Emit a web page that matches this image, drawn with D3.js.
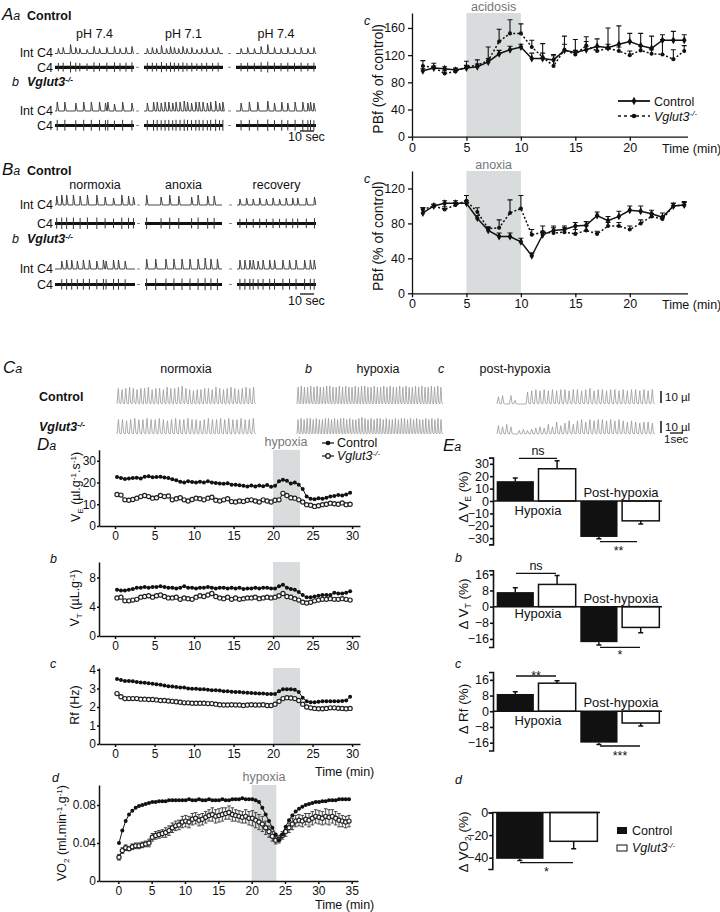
<!DOCTYPE html>
<html><head><meta charset="utf-8">
<script src="https://cdn.jsdelivr.net/npm/d3@7"></script>
<style>
body{margin:0;background:#fff;}
svg{display:block;}
</style></head><body>
<svg id="fig" width="720" height="912"></svg>
<script>
// ================= DATA =================
// A / B : phrenic burst times (s) and integrated amplitudes (a.u.) per segment
const aIntCtrl = [
 [2.4,5.9,11.2,15,17.9,23.1,28.1,32.1,37.4,42.9,46.9,51.2,55.5],
 [2.4,6,9.1,12.6,16.2,19.1,21.9,25,28.1,31,34.5,38.1,41.7,45.2,49.5,53.5],
 [3.6,8.3,13.1,17.9,22.6,27.4,32.1,36.9,41.7,46.4,51.2,55.5]];
const aIntCtrlAmp = [
 [5,6,9,6,5,4,7,5,6,7,5,6,7],
 [5,6,5,8,5,7,6,5,7,5,6,4,5,6,5,6],
 [5,6,5,7,9,6,5,6,5,6,5,6]];
const aIntKO = [
 [1.6,7.1,15,20.7,26.2,32.1,36.4,38.1,42.9,48.8,55.5],
 [2.4,6.9,9.5,12.4,15.2,17.9,20.7,23.1,26,29,31.4,34.3,37.4,39.8,42.6,45.7,48.1,51.7,54.5,56.9],
 [3.6,9.5,15.5,22.6,27.4,32.6,36.9,42.1,47.6,51.2,53.1,55.5]];
const aIntKOAmp = [
 [9,9,8,9,9,9,8,9,7,9,8],
 [8,9,9,8,9,9,8,9,9,10,9,8,9,9,9,8,9,10,8,9],
 [8,9,9,10,8,9,8,9,9,8,9,8]];
const bIntCtrl = [
 [1.2,4.8,8.3,13.1,17.9,23.1,29.8,35.7,41.7,47.6,52.4,55.9],
 [1.2,11.9,18.3,25,34.5,39.3,46.4,51.2],
 [2.1,6.9,11.7,16.4,21.2,26,30.7,35.5,40.2,43.8,50,55.9]];
const bIntCtrlAmp = [
 [9,10,10,10,9,10,10,8,7,10,9,8],
 [10,8,10,9,8,10,9,9],
 [6,7,6,7,6,7,6,7,7,7,7,8]];
const bIntKO = [
 [4.8,8.3,11.9,15.9,20.2,24.5,29.8,34.5,36.4,41.7,45.2,50],
 [1.2,7.9,15.5,21.4,27.4,33.3,39.3,44.5,48.8,53.6],
 [2.1,5.7,9.3,11.7,15.2,18.8,23.6,27.1,33.1,37.9,42.6,48.8,52.9,55.7]];
const bIntKOAmp = [
 [8,9,9,8,9,9,8,9,8,9,9,8],
 [10,10,10,10,10,10,10,11,10,10],
 [9,9,9,9,8,9,9,9,9,9,9,9,9,9]];
const aSegLabels = ['pH 7.4','pH 7.1','pH 7.4'];
const bSegLabels = ['normoxia','anoxia','recovery'];

// Ac / Bc : PBf (% of control)
const pbfTime = [1,2,3,4,5,6,7,8,9,10,11,12,13,14,15,16,17,18,19,20,21,22,23,24,25];
const acCtrl = [97,101,100,98,101,103,110,122,128,132,115,115,113,127,124,128,133,131,136,140,134,130,142,142,142];
const acCtrlErr = [3,3,3,3,4,4,5,5,5,4,8,8,6,21,19,19,11,29,27,12,18,18,8,13,8];
const acKO = [104,102,93,96,103,105,112,140,152,152,132,117,104,128,121,134,126,130,126,120,127,122,121,114,126];
const acKOErr = [8,6,4,4,8,8,20,18,20,14,10,20,17,8,6,6,6,6,6,6,6,6,22,14,8];
const bcCtrl = [92,100,103,103,103,86,72,65,65,59,43,67,72,73,77,78,89,83,88,95,94,91,87,100,101];
const bcCtrlErr = [6,2,3,3,3,3,3,4,4,4,3,4,5,4,4,4,4,5,6,5,6,4,5,3,4];
const bcKO = [96,100,96,101,106,93,74,75,92,97,67,70,69,70,68,72,68,77,77,73,80,88,85,100,101];
const bcKOErr = [2,2,3,3,6,5,2,9,15,15,6,7,6,5,5,5,3,4,4,4,4,3,3,3,3];

// C : breath amplitudes (µl) for each plethysmography trace
const cNormCtrl = [13,12,13,14,13,12,13,13,14,12,13,13,12,14,13,13,14,15,13,12,11,12,12,13,13,12,14,13,12,13,14,13,12,13,14,13,14];
const cNormKO = [12,12,11,12,13,12,12,13,12,12,13,12,11,12,13,12,12,13,12,12,11,12,13,12,12,13,12,13,12,12,13,12,12,13];
const cHypCtrl = [14,15,14,14,15,14,15,14,14,15,15,14,14,15,14,15,14,14,15,14,15,15,14,14,15,14,14,15,14,15,14,14,15,14,15,14,14,15,14,15,14,14,15,14,15,14];
const cHypKO = [12,13,12,13,13,12,13,12,12,13,13,12,13,12,13,13,12,13,12,12,13,14,13,12,13,12,13,13,12,13,12,12,13,12,13,13,12,13,12,13,12,12,13,12,13,12,13,12];
const cPostCtrl = [6,7,0,7,3,0,0,10,11,12,11,12,11,12,11,12,12,11,12,12,11,12,13,11,12,12,11,12,12,11,12,11,12,12,11,12,11,12];
const cPostKO = [7,6,8,6,0,3,4,3,4,5,6,5,8,6,10,7,9,11,8,11,12,10,12,11,12,12,11,12,11,12,11,10,11,10,9,10,10,9];

// D : time courses (every 0.5 min)
const dTime = d3.range(60).map(i => 0.25 + 0.5 * i);
const daCtrl = [22.5,22.0,21.6,21.8,22.0, 22.2,21.8,22.6,22.8,22.4, 22.5,22.6,22.3,22.0,21.5, 21.0,20.3,20.0,20.6,20.2, 20.0,20.3,20.0,20.5,20.0, 19.8,19.5,19.4,19.6,19.0, 19.0,18.7,18.5,18.2,18.6, 18.2,18.6,18.3,18.8,18.0, 18.5,20.5,21.2,20.8,19.5, 20.0,19.0,17.0,13.5,12.5, 12.3,12.8,12.5,13.0,13.6, 13.8,14.2,14.0,14.5,15.3];
const daKO = [14.5,14.2,12.0,11.8,12.2, 12.8,13.5,14.0,13.5,12.8, 13.0,14.0,13.5,13.8,12.0, 12.5,13.0,12.0,11.5,12.2, 12.8,12.5,12.0,12.8,13.2, 11.8,11.5,12.0,12.5,11.2, 11.0,11.5,11.2,11.8,12.0, 11.5,11.0,12.0,11.5,11.0, 11.8,12.0,15.0,14.0,13.0, 12.8,12.0,11.0,9.8,9.5, 9.0,9.3,9.8,10.0,10.5, 10.2,10.0,10.6,9.8,10.0];
const dbCtrl = [6.3,6.2,6.2,6.3,6.4, 6.6,6.6,6.7,6.6,6.7, 6.7,6.8,6.7,6.6,6.6, 6.5,6.6,6.8,6.6,6.6, 6.5,6.6,6.6,6.7,6.6, 6.5,6.6,6.6,6.5,6.6, 6.5,6.6,6.4,6.5,6.5, 6.6,6.5,6.6,6.6,6.5, 6.5,6.8,7.0,6.6,6.4, 6.3,6.0,5.6,5.3,5.3, 5.4,5.5,5.6,5.6,5.6, 5.9,5.8,5.8,5.9,6.1];
const dbKO = [5.2,5.3,4.8,4.8,4.9, 5.0,5.3,5.4,5.5,5.3, 5.5,5.6,5.4,5.2,5.2, 5.3,5.0,5.2,5.1,5.0, 5.3,5.5,5.4,5.6,5.8, 5.4,5.2,5.1,5.3,5.0, 5.2,5.0,5.1,5.2,5.2, 5.3,5.1,5.2,5.3,5.2, 5.3,5.5,5.8,5.4,5.3, 5.1,4.9,4.6,4.5,4.6, 4.8,4.9,5.0,5.0,5.1, 5.0,5.0,5.1,5.0,4.9];
const dcCtrl = [3.50,3.45,3.40,3.40,3.38, 3.35,3.32,3.30,3.28,3.25, 3.22,3.20,3.15,3.12,3.10, 3.08,3.05,3.05,3.00,2.98, 2.98,2.95,2.95,2.92,2.90, 2.90,2.88,2.85,2.85,2.82, 2.80,2.80,2.78,2.76,2.75, 2.74,2.72,2.72,2.70,2.70, 2.70,2.85,2.95,2.95,2.95, 2.92,2.80,2.50,2.30,2.25, 2.25,2.28,2.30,2.30,2.30, 2.30,2.30,2.32,2.35,2.55];
const dcKO = [2.72,2.55,2.45,2.45,2.45, 2.45,2.42,2.42,2.40,2.40, 2.38,2.35,2.35,2.32,2.30, 2.28,2.25,2.22,2.22,2.20, 2.20,2.20,2.20,2.18,2.18, 2.15,2.12,2.10,2.10,2.12, 2.10,2.10,2.08,2.10,2.12, 2.10,2.10,2.12,2.08,2.08, 2.15,2.30,2.45,2.50,2.48, 2.45,2.35,2.15,2.00,1.95, 1.92,1.90,1.90,1.92,1.95, 1.95,1.93,1.92,1.90,1.92];
const ddTime = d3.range(70).map(i => 0.1 + 0.5 * i);
const ddCtrl = [0.040,0.053,0.063,0.070,0.074,0.077,0.079,0.080,0.081,0.082, 0.083,0.083,0.084,0.084,0.084,0.085,0.085,0.085,0.085,0.085, 0.085,0.086,0.085,0.085,0.086,0.085,0.085,0.086,0.085,0.085, 0.085,0.086,0.085,0.085,0.086,0.086,0.086,0.087,0.086,0.086, 0.086,0.085,0.083,0.077,0.070,0.063,0.056,0.049,0.043,0.049, 0.057,0.064,0.069,0.073,0.076,0.078,0.080,0.081,0.082,0.083, 0.083,0.084,0.084,0.085,0.085,0.085,0.086,0.086,0.086,0.086];
const ddKO = [0.025,0.032,0.035,0.034,0.036,0.037,0.037,0.038,0.039,0.040, 0.046,0.048,0.049,0.050,0.051,0.053,0.056,0.058,0.059,0.062, 0.063,0.062,0.065,0.066,0.064,0.065,0.067,0.069,0.070,0.068, 0.069,0.070,0.071,0.072,0.070,0.069,0.068,0.067,0.068,0.066, 0.066,0.064,0.062,0.060,0.056,0.052,0.047,0.043,0.044,0.048, 0.052,0.056,0.060,0.063,0.064,0.063,0.065,0.064,0.066,0.068, 0.067,0.066,0.068,0.067,0.068,0.066,0.064,0.063,0.062,0.063];
const ddKOErr = [0.003,0.003,0.003,0.002,0.003,0.003,0.003,0.003,0.003,0.004, 0.004,0.004,0.004,0.004,0.005,0.005,0.005,0.005,0.005,0.006, 0.006,0.006,0.006,0.006,0.006,0.006,0.006,0.006,0.007,0.007, 0.007,0.007,0.006,0.007,0.007,0.006,0.006,0.006,0.007,0.007, 0.008,0.008,0.008,0.008,0.007,0.006,0.005,0.004,0.004,0.004, 0.005,0.005,0.006,0.006,0.006,0.006,0.006,0.007,0.007,0.007, 0.007,0.007,0.008,0.008,0.007,0.007,0.007,0.006,0.006,0.006];

// E : % change (Control hypoxia, Vglut3 hypoxia, Control post, Vglut3 post)
const eGroups = ['Hypoxia','Post-hypoxia'];
const eaVals = [16, 26, -29, -16];   const eaErr = [2.5, 6.5, 1.5, 2.5];
const ebVals = [7.2, 11, -17.6, -10.3]; const ebErr = [2.2, 4.4, 1.4, 2.7];
const ecVals = [8.8, 14.3, -16, -6]; const ecErr = [1.2, 1.2, 1.0, 1.5];
const edVals = [-41, -25.5];         const edErr = [1.5, 6.5];

// ================= DRAWING =================
const F = '"Liberation Sans", Arial, Helvetica, sans-serif';
const svg = d3.select('#fig').attr('font-family', F);
const INK = '#111';

function RT(x, y, parts, o = {}) {
  const base = o.size || 12.5;
  const t = svg.append('text').attr('x', x).attr('y', y).attr('font-size', base).attr('fill', o.fill || INK);
  if (o.anchor) t.attr('text-anchor', o.anchor);
  if (o.weight) t.attr('font-weight', o.weight);
  if (o.italic) t.attr('font-style', 'italic');
  if (o.rotate) t.attr('transform', `rotate(-90,${x},${y})`);
  let shift = 0;
  parts.forEach(p => {
    const [s, st] = typeof p === 'string' ? [p, {}] : p;
    const target = st.sub ? 3 : st.sup ? -4.5 : 0;
    const ts = t.append('tspan').text(s);
    if (target - shift !== 0) ts.attr('dy', target - shift);
    shift = target;
    if (st.sub || st.sup) ts.attr('font-size', base * 0.65);
    if (st.size) ts.attr('font-size', st.size);
    if (st.italic) ts.attr('font-style', 'italic');
    if (st.weight) ts.attr('font-weight', st.weight);
  });
  return t;
}
const KO = (o = {}) => [['Vglut3', {italic: true, ...o}], ['-/-', {sup: true, italic: true, ...o}]];
function letter(x, y, big, small) {
  RT(x, y, [[big, {italic: true, size: 17}], [small || '', {italic: true, size: 12.5}]]);
}
function styleAxis(g, w = 1.3, fs = 12.5) {
  g.attr('font-family', F).attr('font-size', fs);
  g.selectAll('path,line').attr('stroke', INK).attr('stroke-width', w);
  g.selectAll('text').attr('fill', INK);
}

// ---------- A and B traces ----------
const SEG_SEC = 57;
function traceBlock(segs, intT, intA, yInt, yRaw) {
  segs.forEach((sx, k) => {
    const xs = d3.scaleLinear().domain([0, SEG_SEC]).range(sx);
    const pts = [[xs(0), yInt]];
    intT[k].forEach((t, i) => {
      const h = intA[k][i];
      pts.push([xs(t) - 0.5, yInt], [xs(t), yInt - h], [xs(t) + 1.4, yInt]);
    });
    pts.push([xs(SEG_SEC), yInt]);
    svg.append('path').attr('d', d3.line()(pts)).attr('fill', 'none').attr('stroke', '#333').attr('stroke-width', 0.9);
    svg.append('line').attr('x1', xs(0)).attr('x2', xs(SEG_SEC)).attr('y1', yRaw).attr('y2', yRaw)
      .attr('stroke', INK).attr('stroke-width', 3.2);
    svg.append('g').selectAll('line').data(intT[k]).join('line')
      .attr('x1', d => xs(d)).attr('x2', d => xs(d))
      .attr('y1', (d, i) => yRaw - 2.5 - intA[k][i] * 0.35).attr('y2', (d, i) => yRaw + 2.5 + intA[k][i] * 0.3)
      .attr('stroke', '#333').attr('stroke-width', 1);
    if (k > 0) {
      [yInt, yRaw].forEach(yy => svg.append('line').attr('x1', sx[0] - 8).attr('x2', sx[0] - 5)
        .attr('y1', yy).attr('y2', yy).attr('stroke', '#888').attr('stroke-width', 1));
    }
  });
  RT(53, yInt + 3.5, ['Int C4'], {anchor: 'end'});
  RT(53, yRaw + 4.5, ['C4'], {anchor: 'end'});
}
const aSegs = [[55,134],[144,223],[236,316]];
const bSegs = [[55,135],[145,222],[237,316]];

letter(2, 20, 'A', 'a');
RT(27, 20, ['Control'], {weight: 'bold'});
aSegLabels.forEach((s, i) => RT((aSegs[i][0] + aSegs[i][1]) / 2, 38, [s], {anchor: 'middle'}));
traceBlock(aSegs, aIntCtrl, aIntCtrlAmp, 53.5, 67.3);
RT(12, 86, [['b', {italic: true}]]);
RT(27, 86, KO({weight: 'bold'}));
traceBlock(aSegs, aIntKO, aIntKOAmp, 111, 125.5);
svg.append('line').attr('x1', 300).attr('x2', 314).attr('y1', 131).attr('y2', 131).attr('stroke', INK).attr('stroke-width', 1.3);
RT(288, 141, ['10 sec']);

letter(2, 175, 'B', 'a');
RT(27, 175, ['Control'], {weight: 'bold'});
bSegLabels.forEach((s, i) => RT((bSegs[i][0] + bSegs[i][1]) / 2, 189, [s], {anchor: 'middle'}));
traceBlock(bSegs, bIntCtrl, bIntCtrlAmp, 205, 223.5);
RT(12, 243, [['b', {italic: true}]]);
RT(27, 243, KO({weight: 'bold'}));
traceBlock(bSegs, bIntKO, bIntKOAmp, 269, 284.5);
svg.append('line').attr('x1', 300).attr('x2', 314).attr('y1', 294).attr('y2', 294).attr('stroke', INK).attr('stroke-width', 1.3);
RT(288, 305, ['10 sec']);

// ---------- Ac / Bc ----------
function pbf(o) {
  const x = d3.scaleLinear().domain([0, 25.3]).range([412, 687.5]);
  const y = d3.scaleLinear().domain(o.yDom).range(o.yRng);
  svg.append('rect').attr('x', x(5)).attr('y', o.yRng[1]).attr('width', x(10) - x(5))
    .attr('height', o.yRng[0] - o.yRng[1]).attr('fill', '#d9dcdc');
  RT((x(5) + x(10)) / 2, o.yRng[1] - 2, [o.shadeLabel], {anchor: 'middle', fill: '#777'});
  const gx = svg.append('g').attr('transform', `translate(0,${o.yRng[0]})`)
    .call(d3.axisBottom(x).tickValues([0,5,10,15,20]).tickSize(4).tickSizeOuter(0).tickPadding(2));
  const gy = svg.append('g').attr('transform', `translate(${x(0)},0)`)
    .call(d3.axisLeft(y).tickValues(o.yTicks).tickSize(4).tickSizeOuter(0).tickPadding(3));
  styleAxis(gx); styleAxis(gy);
  const series = [
    {v: o.ko, e: o.koErr, dash: '2,2', sym: d3.symbolCircle, size: 13},
    {v: o.ctrl, e: o.ctrlErr, dash: null, sym: d3.symbolDiamond, size: 18}];
  series.forEach(s => {
    const pts = pbfTime.map((t, i) => [x(t), y(s.v[i]), y(s.v[i] + s.e[i])]);
    svg.append('g').selectAll('path').data(pts).join('path')
      .attr('d', d => `M${d[0]},${d[1]}V${d[2]}M${d[0] - 2.5},${d[2]}H${d[0] + 2.5}`)
      .attr('stroke', INK).attr('stroke-width', 1.1).attr('fill', 'none');
    svg.append('path').datum(pts).attr('d', d3.line().x(d => d[0]).y(d => d[1]))
      .attr('fill', 'none').attr('stroke', INK).attr('stroke-width', 1.5).attr('stroke-dasharray', s.dash);
    svg.append('g').selectAll('path').data(pts).join('path')
      .attr('transform', d => `translate(${d[0]},${d[1]})`).attr('d', d3.symbol(s.sym, s.size)).attr('fill', INK);
  });
  RT(383, (o.yRng[0] + o.yRng[1]) / 2 + 4, ['PBf (% of control)'], {anchor: 'middle', rotate: true, size: 14});
  RT(662, o.yRng[0] + 16, ['Time (min)']);
  RT(364, o.yRng[1] + 12, [['c', {italic: true}]]);
}
pbf({yDom: [0, 182], yRng: [136.7, 13], yTicks: [0,40,80,120,160], ctrl: acCtrl, ctrlErr: acCtrlErr, ko: acKO, koErr: acKOErr, shadeLabel: 'acidosis'});
pbf({yDom: [0, 140], yRng: [293.3, 171], yTicks: [0,40,80,120], ctrl: bcCtrl, ctrlErr: bcCtrlErr, ko: bcKO, koErr: bcKOErr, shadeLabel: 'anoxia'});
// Ac legend
svg.append('line').attr('x1', 618).attr('x2', 650).attr('y1', 101).attr('y2', 101).attr('stroke', INK).attr('stroke-width', 1.8);
svg.append('path').attr('transform', 'translate(634,101)').attr('d', d3.symbol(d3.symbolDiamond, 20)).attr('fill', INK);
RT(654, 105.5, ['Control']);
svg.append('line').attr('x1', 618).attr('x2', 650).attr('y1', 116).attr('y2', 116).attr('stroke', INK).attr('stroke-width', 1.6).attr('stroke-dasharray', '3,3');
svg.append('path').attr('transform', 'translate(634,116)').attr('d', d3.symbol(d3.symbolCircle, 16)).attr('fill', INK);
RT(654, 120.5, KO());

// ---------- C plethysmography ----------
function breath(amps, x0, x1, yBase) {
  const w = (x1 - x0) / amps.length, k = 1.2;
  const pts = [];
  amps.forEach((a, i) => {
    const s = x0 + i * w;
    pts.push([s, yBase], [s + 0.35 * w, yBase - a * k], [s + 0.62 * w, yBase - a * k * 0.08], [s + w, yBase]);
  });
  svg.append('path').attr('d', d3.line()(pts)).attr('fill', 'none').attr('stroke', '#999').attr('stroke-width', 0.8);
}
letter(3, 373, 'C', 'a');
RT(186, 373, ['normoxia'], {anchor: 'middle'});
RT(305, 373, [['b', {italic: true}]]);
RT(378, 373, ['hypoxia'], {anchor: 'middle'});
RT(438, 373, [['c', {italic: true}]]);
RT(515, 373, ['post-hypoxia'], {anchor: 'middle'});
RT(39, 401, ['Control'], {weight: 'bold'});
RT(39, 431, KO({weight: 'bold'}));
breath(cNormCtrl, 117, 256, 404);
breath(cHypCtrl, 297, 443, 404);
breath(cPostCtrl, 497, 655, 404);
breath(cNormKO, 117, 256, 434);
breath(cHypKO, 297, 443, 434);
breath(cPostKO, 497, 655, 434);
[[391, 403], [421, 433]].forEach(([a, b]) => {
  svg.append('line').attr('x1', 661).attr('x2', 661).attr('y1', a).attr('y2', b).attr('stroke', INK).attr('stroke-width', 1.5);
  RT(665, b - 2, ['10 µl'], {size: 11.5});
});
svg.append('line').attr('x1', 670).attr('x2', 683).attr('y1', 433).attr('y2', 433).attr('stroke', INK).attr('stroke-width', 1.3);
RT(664, 443, ['1sec'], {size: 11.5});

// ---------- D time courses ----------
function dChart(o) {
  const x = d3.scaleLinear().domain(o.xDom).range(o.xRng);
  const y = d3.scaleLinear().domain(o.yDom).range(o.yRng);
  svg.append('rect').attr('x', x(o.shade[0])).attr('y', o.yRng[1]).attr('width', x(o.shade[1]) - x(o.shade[0]))
    .attr('height', o.yRng[0] - o.yRng[1]).attr('fill', '#d9dcdc');
  const gx = svg.append('g').attr('transform', `translate(0,${o.yRng[0]})`)
    .call(d3.axisBottom(x).tickValues(o.xTicks).tickSize(3).tickSizeOuter(0).tickPadding(2));
  const gy = svg.append('g').attr('transform', `translate(${o.xRng[0]},0)`)
    .call(d3.axisLeft(y).tickValues(o.yTicks).tickSize(2).tickSizeOuter(0).tickPadding(1).tickFormat(o.fmt || (d => d)));
  styleAxis(gx, 1.5, 12); styleAxis(gy, 1.5, 12);
  const draw = (vals, err, filled) => {
    const pts = o.t.map((t, i) => [x(t), y(vals[i]), err ? y(vals[i] - err[i]) : 0, err ? y(vals[i] + err[i]) : 0]);
    if (err) {
      svg.append('g').selectAll('path').data(pts).join('path')
        .attr('d', d => `M${d[0]},${d[2]}V${d[3]}M${d[0] - 1.8},${d[2]}H${d[0] + 1.8}M${d[0] - 1.8},${d[3]}H${d[0] + 1.8}`)
        .attr('stroke', '#333').attr('stroke-width', 0.9).attr('fill', 'none');
    }
    svg.append('path').datum(pts).attr('d', d3.line().x(d => d[0]).y(d => d[1]))
      .attr('fill', 'none').attr('stroke', INK).attr('stroke-width', 1);
    svg.append('g').selectAll('circle').data(pts).join('circle')
      .attr('cx', d => d[0]).attr('cy', d => d[1]).attr('r', filled ? 2 : 2.1)
      .attr('fill', filled ? INK : '#fff').attr('stroke', filled ? 'none' : '#222').attr('stroke-width', 1.2);
  };
  draw(o.ko, o.koErr, false);
  draw(o.ctrl, null, true);
}
const dX = {xDom: [-2.03, 31.0], xRng: [99, 360], xTicks: [0,5,10,15,20,25,30], shade: [20, 23.4], t: dTime};
dChart({...dX, yDom: [0, 35], yRng: [526, 449.8], yTicks: [0,10,20,30], ctrl: daCtrl, ko: daKO});
dChart({...dX, yDom: [0, 10.1], yRng: [636, 562], yTicks: [0,4,8], ctrl: dbCtrl, ko: dbKO});
dChart({...dX, yDom: [0, 4.1], yRng: [744, 668], yTicks: [0,1,2,3,4], ctrl: dcCtrl, ko: dcKO});
dChart({xDom: [-2.9, 35.95], xRng: [99, 358], xTicks: [0,5,10,15,20,25,30,35], shade: [20, 23.7], t: ddTime,
  yDom: [0, 0.101], yRng: [881, 785], yTicks: [0, 0.04, 0.08], fmt: d => d === 0 ? '0' : d3.format('.2f')(d),
  ctrl: ddCtrl, ko: ddKO, koErr: ddKOErr});

letter(37, 450, 'D', 'a');
RT(286, 446, ['hypoxia'], {anchor: 'middle', fill: '#777'});
RT(264, 781, ['hypoxia'], {anchor: 'middle', fill: '#777'});
svg.append('line').attr('x1', 322).attr('x2', 334).attr('y1', 443).attr('y2', 443).attr('stroke', INK).attr('stroke-width', 1.2);
svg.append('circle').attr('cx', 328).attr('cy', 443).attr('r', 2.3).attr('fill', INK);
RT(337, 447, ['Control']);
svg.append('line').attr('x1', 322).attr('x2', 334).attr('y1', 456).attr('y2', 456).attr('stroke', INK).attr('stroke-width', 1.2);
svg.append('circle').attr('cx', 328).attr('cy', 456).attr('r', 2.3).attr('fill', '#fff').attr('stroke', '#222').attr('stroke-width', 1.3);
RT(337, 460, KO());
RT(50, 563, [['b', {italic: true}]]);
RT(50, 668, [['c', {italic: true}]]);
RT(52, 782, [['d', {italic: true}]]);
RT(80, 487, ['V', ['E', {sub: true}], ' (µl.g', ['-1', {sup: true}], '.s', ['-1', {sup: true}], ')'], {anchor: 'middle', rotate: true});
RT(79, 598, ['V', ['T', {sub: true}], ' (µL.g', ['-1', {sup: true}], ')'], {anchor: 'middle', rotate: true});
RT(79, 705, ['Rf (Hz)'], {anchor: 'middle', rotate: true});
RT(66, 833, ['VO', ['2', {sub: true}], ' (ml.min', ['-1', {sup: true}], '.g', ['-1', {sup: true}], ')'], {anchor: 'middle', rotate: true});
RT(315, 776, ['Time (min)']);
RT(315, 909, ['Time (min)']);

// ---------- E bar charts ----------
function eChart(o) {
  const y = d3.scaleLinear().domain(o.yDom).range(o.yRng);
  const x = d3.scaleBand().domain(d3.range(o.vals.length)).range(o.xRng).paddingInner(o.pi).paddingOuter(o.po);
  const bw = x.bandwidth();
  o.vals.forEach((v, i) => {
    const ctrl = i % 2 === 0;
    svg.append('rect').attr('x', x(i)).attr('y', y(Math.max(0, v))).attr('width', bw)
      .attr('height', Math.abs(y(v) - y(0))).attr('fill', ctrl ? INK : '#fff')
      .attr('stroke', INK).attr('stroke-width', ctrl ? 0 : 1.5);
    const cx = x(i) + bw / 2, ye = y(v + Math.sign(v) * o.err[i]);
    svg.append('path').attr('d', `M${cx},${y(v)}V${ye}M${cx - 2.5},${ye}H${cx + 2.5}`)
      .attr('stroke', INK).attr('stroke-width', 1.5).attr('fill', 'none');
  });
  svg.append('line').attr('x1', o.axisX).attr('x2', o.zeroEnd).attr('y1', y(0)).attr('y2', y(0)).attr('stroke', INK).attr('stroke-width', 1.5);
  const gy = svg.append('g').attr('transform', `translate(${o.axisX},0)`)
    .call(d3.axisLeft(y).tickValues(o.yTicks).tickSize(3).tickSizeOuter(4).tickPadding(1));
  styleAxis(gy, 1.6, 12.5);
  (o.sig || []).forEach(s => {
    svg.append('line').attr('x1', s.x1).attr('x2', s.x2).attr('y1', s.y).attr('y2', s.y).attr('stroke', INK).attr('stroke-width', 1.3);
    RT((s.x1 + s.x2) / 2, s.ty, [s.text], {anchor: 'middle', size: s.size || 12.5});
  });
  if (o.groupLabels) {
    RT(o.groupLabels[0][0], o.groupLabels[0][1], [eGroups[0]], {anchor: 'middle', size: 13});
    RT(o.groupLabels[1][0], o.groupLabels[1][1], [eGroups[1]], {anchor: 'middle', size: 13});
  }
}
const e4 = {xRng: [495, 661], pi: 0.11, po: 0.04, axisX: 493, zeroEnd: 662};
eChart({...e4, yDom: [-35, 35], yRng: [544.4, 457.6], yTicks: [-30,-20,-10,0,10,20,30], vals: eaVals, err: eaErr,
  sig: [{x1: 519, x2: 557, y: 458.3, ty: 455, text: 'ns'}, {x1: 600, x2: 637, y: 541.7, ty: 555, text: '**'}],
  groupLabels: [[538, 515], [621, 497]]});
eChart({...e4, yDom: [-20, 18], yRng: [647, 570.3], yTicks: [-16,-8,0,8,16], vals: ebVals, err: ebErr,
  sig: [{x1: 516, x2: 556, y: 573.3, ty: 570, text: 'ns'}, {x1: 600, x2: 640, y: 647.3, ty: 659, text: '*'}],
  groupLabels: [[538, 618], [621, 603]]});
eChart({...e4, yDom: [-20, 20], yRng: [750.5, 672], yTicks: [-16,-8,0,8,16], vals: ecVals, err: ecErr,
  sig: [{x1: 516, x2: 556, y: 676, ty: 680, text: '**'}, {x1: 600, x2: 640, y: 746, ty: 760, text: '***'}],
  groupLabels: [[538, 725], [621, 707]]});
eChart({xRng: [494.5, 599], pi: 0.12, po: 0.03, axisX: 492.3, zeroEnd: 600, yDom: [-50, 0], yRng: [869, 812.5],
  yTicks: [-40,-20,0], vals: edVals, err: edErr,
  sig: [{x1: 520, x2: 573, y: 862.7, ty: 876, text: '*'}]});

letter(443, 451, 'E', 'a');
RT(455, 562, [['b', {italic: true}]]);
RT(455, 668, [['c', {italic: true}]]);
RT(455, 784, [['d', {italic: true}]]);
RT(468, 497, ['Δ V', ['E', {sub: true}], ' (%)'], {anchor: 'middle', rotate: true, size: 13.5});
RT(468, 604, ['Δ V', ['T', {sub: true}], ' (%)'], {anchor: 'middle', rotate: true, size: 13.5});
RT(468, 709, ['Δ Rf (%)'], {anchor: 'middle', rotate: true, size: 13.5});
RT(468, 842, ['Δ VO', ['2', {sub: true}], ' (%)'], {anchor: 'middle', rotate: true, size: 13.5});
svg.append('rect').attr('x', 617).attr('y', 827).attr('width', 10).attr('height', 7).attr('fill', INK);
RT(632, 834.5, ['Control']);
svg.append('rect').attr('x', 617).attr('y', 845).attr('width', 10).attr('height', 6).attr('fill', '#fff').attr('stroke', INK).attr('stroke-width', 1);
RT(632, 852, KO());
</script></body></html>
